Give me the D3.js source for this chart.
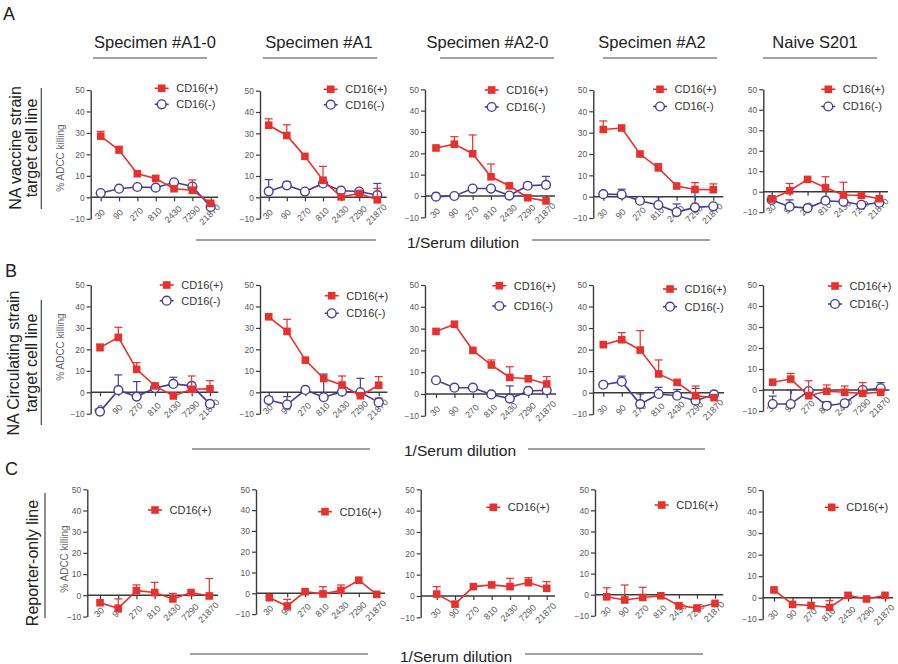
<!DOCTYPE html>
<html><head><meta charset="utf-8">
<script src="https://cdn.jsdelivr.net/npm/d3@7"></script>
<style>
body{margin:0;background:#fff;}
svg{display:block;font-family:"Liberation Sans",Arial,sans-serif;}
</style></head><body>
<svg id="chart" width="898" height="664"></svg>
<script>
// ---------------- DATA ----------------
const dilutions = ["30","90","270","810","2430","7290","21870"];
const specimens = ["Specimen #A1-0","Specimen #A1","Specimen #A2-0","Specimen #A2","Naive S201"];
const rowLabels = [["NA vaccine strain","target cell line"],["NA Circulating strain","target cell line"],["Reporter-only line"]];
const panelLetters = ["A","B","C"];
const yTicks = [-10,0,10,20,30,40,50];
const seriesNames = ["CD16(+)","CD16(-)"];
const yLabel = "% ADCC killing";
const xLabel = "1/Serum dilution";

// Row A: NA vaccine strain target cells
const vaccinePos = [
  [28.5,22,11,8.8,4,3.3,-2.8],
  [33.8,29,19.2,8,0.2,1.8,-1.2],
  [22.5,24.3,19.8,9,4.8,-0.8,-2.3],
  [31.5,32.2,20,13.5,5,3.4,3.3],
  [-3.6,0.5,6,2,-1.6,-1.8,-3.4]
];
const vaccinePosErr = [
  [2.2,1.8,0,0,0,4.8,0],
  [3,5,0,6.5,0,0,5.4],
  [0,3.5,8.8,6,0,0,0],
  [4,0,0,2,0,3.2,2.7],
  [0,3.5,0,5.3,6.2,0,0]
];
const vaccineNeg = [
  [2,4,4.8,4.5,7,5,-4.5],
  [2.8,5.6,2.7,6.5,3.1,2.7,1],
  [-0.3,0,3.5,3.5,0.2,4.8,5.2],
  [1.2,1,-1.9,-3.9,-7.2,-5,-4.5],
  [-4,-7.3,-8,-4.4,-4.9,-6.4,-5.4]
];
const vaccineNegErr = [
  [0,0,0,0,0,0,0],
  [5.5,1.5,0,0,0,0,5.5],
  [1.5,0,0,0,0,1.5,4],
  [0,2.5,0,3.9,3.8,7.3,0],
  [2,3.3,0,0,0,0,0]
];

// Row B: NA circulating strain target cells
const circPos = [
  [20.8,25.6,10.7,3,-1.7,1.4,1.6],
  [35.2,28.4,15,6.4,3.4,-1.6,3.3],
  [28.7,32,20,13.3,7.6,7,4.6],
  [22.3,24.6,19.8,8.7,4.8,-1.4,-2.3],
  [3.7,5.2,-2.7,-0.6,-1.1,-1.6,-1.1]
];
const circPosErr = [
  [1.7,4.7,3.1,0,0,6.2,3.8],
  [0,5.6,0,0,4.2,0,4],
  [0,0,0,2.3,4.9,0,3.4],
  [0,3.3,9,6.5,0,4.5,0],
  [0,2.7,7.1,3,3,5.1,0]
];
const circNeg = [
  [-9,1,-2,2,3.9,3,-5.4],
  [-3.6,-5.7,1.1,-2.3,0.3,0,-4.7],
  [6.3,2.9,2.9,-0.2,-2.1,1.4,1.7],
  [3.7,5.1,-5.3,-0.6,-1.4,-3.7,-0.8],
  [-6.7,-6.7,-0.5,-7.5,-6.3,0,0.8]
];
const circNegErr = [
  [0,7.1,7,0,3.1,0,0],
  [1.5,3.7,0,10.8,0,6.5,2],
  [0,0,0,0,5.8,0,0],
  [0,2.6,4.7,3.1,2.9,5.7,0],
  [3.8,6.7,0,1.9,0,0,2.7]
];

// Row C: reporter-only line
const reporterPos = [
  [-3.5,-6.1,2.2,1.3,-1.7,1.3,-0.3],
  [-2.1,-6.1,0.8,-0.3,1.4,6.3,-0.5],
  [0.9,-3.8,4.4,5.2,4.4,6.3,3.6],
  [-1,-2.5,-1.3,-0.5,-5.2,-6.3,-4.1],
  [3.6,-3.1,-3.6,-4.5,1.1,-0.6,1.1]
];
const reporterPosErr = [
  [0,4.4,2.7,4.8,2.6,0,8.2],
  [0,3.2,0,3.5,2.6,0,0],
  [3.5,0,0,0,3.9,2.3,3.1],
  [4.3,7.1,4.8,0,0,0,0],
  [0,0,0,3.1,0,0,0]
];

// ---------------- LAYOUT ----------------
const geom = {
  axisX: [[90.7,260,425,593.3,763.3],[90.7,260,425,593,763],[87.3,256,420.7,595,762.7]],
  xFirst:[[100.7,268.7,436,603.3,771.7],[100,268.7,436,603.3,772.7],[100,269.3,436.7,606.7,774]],
  xLast: [[210.7,377.3,546,713.3,879.3],[210,378.7,546.7,714,880.7],[209.3,376.7,546.7,715,885]],
  xEnd:  [[218,386.7,555,723.3,888],[218.3,387.3,556,724,889.3],[218,385,555,723.3,893]],
  y50:   [[90,90.7,89.3,90,89.3],[285,285,285,285,285],[489.3,489.3,489.3,489.3,490]],
  y0:    [[197.3,197.3,196,196.7,191.7],[392.3,392.3,394,392.7,390],[595.3,593.3,596,594.7,597.7]],
  legend:[
    [[161.7,88.3,104.3],[330.7,89.3,104.7],[491.7,90,107],[660,89.3,106.5],[828.3,89.3,106.5]],
    [[166.7,285,300.7],[331.7,295.7,313.3],[499.3,285.7,306],[670,289,306.7],[835,286,304]],
    [[155,510],[325,511.7],[493.3,507.3],[661.7,505],[831.7,507.3]]
  ]
};
const RED = "#e8302c", BLUE = "#4a3c98", AXIS = "#3a3a3a", TICKTXT = "#5a5a5a";

const rows = [
  {series:[{v:vaccinePos,e:vaccinePosErr},{v:vaccineNeg,e:vaccineNegErr}]},
  {series:[{v:circPos,e:circPosErr},{v:circNeg,e:circNegErr}]},
  {series:[{v:reporterPos,e:reporterPosErr}]}
];

const svg = d3.select("#chart");

// Column titles
const titleCx = [155,319,487.5,652,815];
const titleLine = [[93,207],[263,377],[440,554],[603,717],[763,877]];
specimens.forEach((s,i)=>{
  svg.append("text").attr("x",titleCx[i]).attr("y",48).attr("text-anchor","middle")
    .attr("font-size",16.5).attr("fill","#222").text(s);
  svg.append("line").attr("x1",titleLine[i][0]).attr("x2",titleLine[i][1])
    .attr("y1",58).attr("y2",58).attr("stroke","#444").attr("stroke-width",1.2);
});

// Panel letters
const letterPos = [[3,20],[5,277],[5,475]];
panelLetters.forEach((l,i)=>{
  svg.append("text").attr("x",letterPos[i][0]).attr("y",letterPos[i][1])
    .attr("font-size",18).attr("fill","#222").text(l);
});

// Row labels
const rowLabelGeom = [
  {cy:148, bx:[20.5,37.3], line:[41.3,88,209]},
  {cy:363, bx:[18.5,37.3], line:[41.3,300,425]},
  {cy:563, bx:[38], line:[45,493,618]}
];
rowLabels.forEach((lines,r)=>{
  const gm = rowLabelGeom[r];
  lines.forEach((t,k)=>{
    svg.append("text").attr("transform",`translate(${gm.bx[k]},${gm.cy}) rotate(-90)`)
      .attr("text-anchor","middle").attr("font-size",16).attr("fill","#222").text(t);
  });
  svg.append("line").attr("x1",gm.line[0]).attr("x2",gm.line[0]).attr("y1",gm.line[1]).attr("y2",gm.line[2])
    .attr("stroke","#444").attr("stroke-width",1.2);
});

// Y axis label (first column only)
const yLabGeom = [[64,158],[64,347],[67.5,559]];
yLabGeom.forEach(p=>{
  svg.append("text").attr("transform",`translate(${p[0]},${p[1]}) rotate(-90)`)
    .attr("text-anchor","middle").attr("font-size",10).attr("fill","#666").text(yLabel);
});

// "1/Serum dilution" with flanking lines
const xLabGeom = [
  {tx:407, ty:248, ly:240, l1:[196,376], l2:[532,710]},
  {tx:404, ty:456, ly:449, l1:[192,370], l2:[528,705]},
  {tx:400, ty:662, ly:654, l1:[190,368], l2:[525,703]}
];
xLabGeom.forEach(gm=>{
  svg.append("text").attr("x",gm.tx).attr("y",gm.ty).attr("font-size",15.5).attr("fill","#222").text(xLabel);
  [gm.l1,gm.l2].forEach(l=>svg.append("line").attr("x1",l[0]).attr("x2",l[1]).attr("y1",gm.ly).attr("y2",gm.ly)
    .attr("stroke","#444").attr("stroke-width",1.2));
});

// Panels
rows.forEach((row,r)=>{
  for(let c=0;c<5;c++){
    const g = svg.append("g");
    const ax = geom.axisX[r][c];
    const y0 = geom.y0[r][c], y50 = geom.y50[r][c];
    const yMin = y0 + (y0-y50)/5;
    const x = d3.scalePoint().domain(dilutions).range([geom.xFirst[r][c], geom.xLast[r][c]]);
    const y = d3.scaleLinear().domain([-10,50]).range([yMin,y50]);

    // Y axis
    const ya = g.append("g").attr("transform",`translate(${ax},0)`)
      .call(d3.axisLeft(y).tickValues(yTicks).tickSize(4).tickSizeOuter(0).tickPadding(2));
    ya.select(".domain").attr("stroke",AXIS).attr("stroke-width",1.4);
    ya.selectAll(".tick line").attr("stroke",AXIS).attr("stroke-width",1.2);
    ya.selectAll(".tick text").attr("font-size",8.5).attr("fill",TICKTXT).attr("font-family","Liberation Sans, Arial, sans-serif");

    // X axis at y=0
    const xa = g.append("g").attr("transform",`translate(0,${y(0)})`)
      .call(d3.axisBottom(x).tickSize(4).tickSizeOuter(0));
    xa.select(".domain").remove();
    xa.selectAll(".tick line").attr("stroke",AXIS).attr("stroke-width",1.2);
    xa.selectAll(".tick text").attr("font-size",9).attr("fill",TICKTXT)
      .attr("font-family","Liberation Sans, Arial, sans-serif")
      .attr("text-anchor","middle").attr("dy","0.35em").attr("y",null)
      .attr("transform","translate(-1.5,17) rotate(-45)");
    g.append("line").attr("x1",ax).attr("x2",geom.xEnd[r][c]).attr("y1",y(0)).attr("y2",y(0))
      .attr("stroke",AXIS).attr("stroke-width",1.4);

    // Series (draw CD16(-) first, CD16(+) on top)
    const order = row.series.map((s,i)=>i).reverse();
    order.forEach(si=>{
      const s = row.series[si];
      const color = si===0 ? RED : BLUE;
      const pts = dilutions.map((k,i)=>({k, v:s.v[c][i], e:s.e[c][i]}));
      const eb = g.append("g").attr("stroke",color).attr("stroke-width",1.2);
      pts.filter(p=>p.e>0).forEach(p=>{
        eb.append("line").attr("x1",x(p.k)).attr("x2",x(p.k)).attr("y1",y(p.v)).attr("y2",y(p.v+p.e));
        eb.append("line").attr("x1",x(p.k)-4).attr("x2",x(p.k)+4).attr("y1",y(p.v+p.e)).attr("y2",y(p.v+p.e));
      });
      g.append("path").datum(pts).attr("fill","none").attr("stroke",color).attr("stroke-width",1.6)
        .attr("d",d3.line().x(p=>x(p.k)).y(p=>y(p.v)));
      if(si===0){
        g.selectAll(null).data(pts).enter().append("rect")
          .attr("x",p=>x(p.k)-3.8).attr("y",p=>y(p.v)-3.8).attr("width",7.6).attr("height",7.6).attr("fill",color);
      } else {
        g.selectAll(null).data(pts).enter().append("circle")
          .attr("cx",p=>x(p.k)).attr("cy",p=>y(p.v)).attr("r",4.4)
          .attr("fill","#fff").attr("stroke",color).attr("stroke-width",1.4);
      }
    });

    // Legend
    const lg = geom.legend[r][c];
    row.series.forEach((s,si)=>{
      const color = si===0 ? RED : BLUE;
      const ly = lg[1+si];
      g.append("line").attr("x1",lg[0]-7).attr("x2",lg[0]+7).attr("y1",ly).attr("y2",ly)
        .attr("stroke",color).attr("stroke-width",1.6);
      if(si===0){
        g.append("rect").attr("x",lg[0]-3.8).attr("y",ly-3.8).attr("width",7.6).attr("height",7.6).attr("fill",color);
      } else {
        g.append("circle").attr("cx",lg[0]).attr("cy",ly).attr("r",4.4).attr("fill","#fff")
          .attr("stroke",color).attr("stroke-width",1.4);
      }
      g.append("text").attr("x",lg[0]+14.5).attr("y",ly+3.8).attr("font-size",11).attr("fill","#333")
        .text(seriesNames[si]);
    });
  }
});
</script>
</body></html>
